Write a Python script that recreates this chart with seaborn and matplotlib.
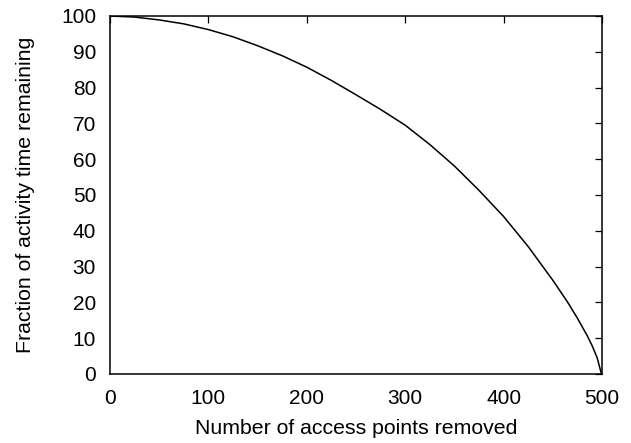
import matplotlib
matplotlib.use("Agg")
import matplotlib.pyplot as plt
import seaborn as sns
import pandas as pd

# Data
removed = [0, 25, 50, 75, 100, 125, 150, 175, 200, 225, 250, 275, 300, 325,
           350, 375, 400, 425, 450, 465, 475, 485, 490, 495, 499.5]
remaining = [100, 99.7, 98.9, 97.8, 96.2, 94.2, 91.7, 88.9, 85.7, 82.0, 78.0, 73.9, 69.5, 64.1,
             58.1, 51.3, 44.0, 35.6, 26.2, 20.1, 15.6, 10.7, 7.9, 4.6, 0.0]
xticks = [0, 100, 200, 300, 400, 500]
yticks = [0, 10, 20, 30, 40, 50, 60, 70, 80, 90, 100]

sns.set_theme(style="white")
plt.rcParams['font.family'] = ['Liberation Sans', 'DejaVu Sans']

df = pd.DataFrame({"removed": removed, "remaining": remaining})

fig = plt.figure(figsize=(6.31, 4.43), dpi=100)
ax = fig.add_axes([0.1743, 0.1558, 0.7797, 0.8081])
sns.lineplot(data=df, x="removed", y="remaining", ax=ax, color="black", linewidth=1.1)

ax.set_xlim(0, 500)
ax.set_ylim(0, 100)
ax.set_xticks(xticks)
ax.set_yticks(yticks)
ax.tick_params(direction="in", length=5, width=0.9, top=True, right=True,
               labelsize=15, colors="black")
ax.tick_params(axis="y", pad=10)
ax.tick_params(axis="x", pad=11)
for s in ax.spines.values():
    s.set_color("black")
    s.set_linewidth(1.1)
ax.set_xlabel("Number of access points removed", fontsize=15.3, color="black", labelpad=8)
ax.set_ylabel("Fraction of activity time remaining", fontsize=15.3, color="black", labelpad=19)

fig.savefig("out.png", dpi=100)
